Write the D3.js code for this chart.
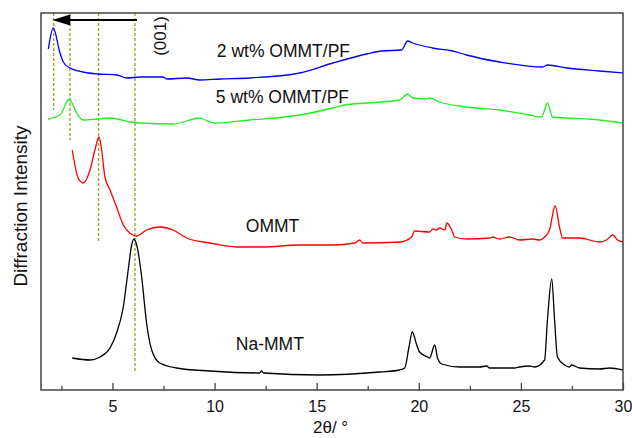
<!DOCTYPE html>
<html>
<head>
<meta charset="utf-8">
<script src="https://cdn.jsdelivr.net/npm/d3@7"></script>
<style>
  body { margin: 0; background: #fff; }
  svg text { font-family: Arial, "Liberation Sans", sans-serif; fill: #111; }
</style>
</head>
<body>
<div id="chart"></div>
<script>
// XRD patterns, 2theta (deg) vs intensity (a.u., curves stacked)
var naMMT_x = [3.03, 3.90, 4.39, 4.88, 5.20, 5.53, 5.77, 5.94, 6.05, 6.21, 6.43, 6.67, 6.92, 7.32, 8.14, 9.77, 12.21, 12.30, 12.40, 15.15, 18.09, 19.06, 19.31, 19.52, 19.68, 19.90, 20.04, 20.43, 20.53, 20.78, 20.92, 21.12, 22.00, 22.98, 23.32, 23.47, 24.69, 24.93, 25.42, 25.67, 26.16, 26.30, 26.51, 26.65, 26.79, 27.14, 27.38, 27.48, 27.87, 28.85, 29.34, 30.00];
var naMMT_y = [32, 30, 33, 42, 57, 83, 120, 145, 151, 143, 113, 67, 40, 27, 22, 19, 17, 19, 17, 15, 18, 20, 22, 43, 58, 45, 38, 33, 32, 45, 32, 26, 23, 23, 24, 22, 22, 23, 24, 23, 30, 70, 111, 70, 33, 25, 23, 25, 22, 21, 22, 20];

var ommt_x = [3.03, 3.32, 3.57, 3.90, 4.14, 4.34, 4.47, 4.63, 4.88, 5.20, 5.53, 5.85, 6.18, 6.67, 7.32, 7.97, 8.63, 9.77, 11.07, 11.72, 12.36, 14.17, 15.79, 16.86, 17.11, 17.25, 19.06, 19.65, 19.80, 20.53, 20.68, 20.87, 21.02, 21.27, 21.38, 21.61, 21.75, 22.34, 23.47, 23.61, 23.96, 24.45, 24.93, 25.57, 25.91, 26.16, 26.40, 26.68, 26.89, 27.04, 27.87, 28.85, 29.19, 29.50, 29.73, 30.00];
var ommt_y = [240, 212, 207, 220, 240, 253, 240, 213, 200, 183, 165, 157, 154, 160, 163, 160, 152, 147, 143, 143, 143, 145, 145, 147, 150, 147, 148, 153, 159, 158, 161, 160, 162, 160, 167, 160, 153, 151, 152, 153, 151, 153, 150, 151, 150, 153, 160, 184, 163, 152, 152, 148, 150, 155, 150, 148];

var pf5_x = [1.84, 2.43, 2.88, 3.25, 3.55, 4.29, 4.88, 5.22, 5.85, 6.34, 7.96, 9.28, 9.43, 10.01, 11.72, 14.17, 15.79, 16.37, 17.45, 19.06, 19.45, 19.70, 20.38, 20.53, 21.02, 22.34, 23.96, 25.42, 26.01, 26.30, 26.55, 27.23, 28.85, 30.00];
var pf5_y = [271, 275, 291, 277, 270, 271, 272, 271, 268, 267, 266, 272, 271, 267, 270, 275, 282, 285, 287, 290, 296, 292, 291, 292, 288, 283, 280, 275, 273, 287, 273, 272, 270, 267];

var pf2_x = [1.86, 2.10, 2.43, 2.59, 2.92, 3.55, 4.29, 5.22, 5.71, 6.34, 7.47, 7.66, 8.64, 9.28, 10.26, 11.72, 14.17, 15.79, 17.45, 18.18, 19.16, 19.45, 19.70, 20.68, 21.66, 22.34, 23.96, 26.06, 26.30, 27.23, 28.85, 30.00];
var pf2_y = [341, 362, 337, 328, 322, 318, 316, 315, 312, 313, 313, 311, 312, 310, 311, 312, 317, 327, 336, 339, 340, 349, 347, 342, 339, 335, 328, 323, 325, 322, 319, 317];

var seriesNames = ["2 wt% OMMT/PF", "5 wt% OMMT/PF", "OMMT", "Na-MMT"];
var seriesColors = ["#0000ff", "#22ee22", "#ff0000", "#000000"];
var labelX = [10.11, 10.06, 11.53, 11.04];
var labelY = [333, 287, 158, 40];

// (001) reflections marked with dotted lines
var peakPos = [2.12, 2.92, 4.32, 6.10];
var peakLineBottom = [280, 250, 147, 17];
var arrowFrom = [6.2, 370], arrowTo = [2.05, 370];

var majorTicks = [5, 10, 15, 20, 25, 30];
var minorTicks = [2.5, 7.5, 12.5, 17.5, 22.5, 27.5];

var W = 632, H = 438;
var margin = {top: 13, right: 9, bottom: 48, left: 41};
var innerW = W - margin.left - margin.right,
    innerH = H - margin.top - margin.bottom;

var svg = d3.select("#chart").append("svg")
    .attr("width", W)
    .attr("height", H);
var g = svg.append("g").attr("transform", "translate(" + margin.left + "," + margin.top + ")");

var x = d3.scaleLinear().domain([1.5, 30]).range([0, innerW]);
var y = d3.scaleLinear().domain([0, 377]).range([innerH, 0]);

// dotted guide lines
g.selectAll(".guide").data(peakPos).enter().append("line")
    .attr("class", "guide")
    .attr("x1", function(d){ return x(d); })
    .attr("x2", function(d){ return x(d); })
    .attr("y1", y(377))
    .attr("y2", function(d, i){ return y(peakLineBottom[i]); })
    .attr("stroke", "#a3a32a")
    .attr("stroke-width", 1.4)
    .attr("stroke-dasharray", "3,2");

var series = [
    {x: pf2_x, y: pf2_y},
    {x: pf5_x, y: pf5_y},
    {x: ommt_x, y: ommt_y},
    {x: naMMT_x, y: naMMT_y}
];

var line = d3.line()
    .x(function(d){ return x(d[0]); })
    .y(function(d){ return y(d[1]); })
    .curve(d3.curveMonotoneX);

series.forEach(function(s, i){
    var pts = s.x.map(function(v, j){ return [v, s.y[j]]; });
    g.append("path")
        .attr("d", line(pts))
        .attr("fill", "none")
        .attr("stroke", seriesColors[i])
        .attr("stroke-width", 1.3);
    g.append("text")
        .attr("x", x(labelX[i]))
        .attr("y", y(labelY[i]))
        .attr("font-size", 17.5)
        .text(seriesNames[i]);
});

// arrow
g.append("line")
    .attr("x1", x(arrowFrom[0])).attr("y1", y(arrowFrom[1]))
    .attr("x2", x(arrowTo[0]) + 12).attr("y2", y(arrowTo[1]))
    .attr("stroke", "#000").attr("stroke-width", 2);
var tipX = x(arrowTo[0]), tipY = y(arrowTo[1]);
g.append("path")
    .attr("d", "M" + tipX + "," + tipY + "L" + (tipX + 18) + "," + (tipY - 5.5) + "L" + (tipX + 18) + "," + (tipY + 5.5) + "Z")
    .attr("fill", "#000");

g.append("text")
    .attr("transform", "translate(" + (x(arrowFrom[0]) + 29) + "," + y(354) + ") rotate(-90)")
    .attr("text-anchor", "middle")
    .attr("font-size", 17)
    .text("(001)");

// frame
g.append("rect")
    .attr("width", innerW).attr("height", innerH)
    .attr("fill", "none").attr("stroke", "#444").attr("stroke-width", 1.5);

// x axis, ticks pointing inward
g.append("g")
    .attr("transform", "translate(0," + innerH + ")")
    .call(d3.axisBottom(x).tickValues(minorTicks).tickSize(-4).tickFormat(""))
    .call(function(a){ a.select(".domain").remove(); a.selectAll("line").attr("stroke", "#444").attr("stroke-width", 1.3); });

g.append("g")
    .attr("transform", "translate(0," + innerH + ")")
    .call(d3.axisBottom(x).tickValues(majorTicks).tickSize(-7).tickPadding(11).tickFormat(d3.format("d")))
    .call(function(a){
        a.select(".domain").remove();
        a.selectAll("line").attr("stroke", "#444").attr("stroke-width", 1.3);
        a.selectAll("text").attr("font-size", 16).attr("fill", "#111")
            .attr("font-family", "Arial, 'Liberation Sans', sans-serif");
    });

svg.append("text")
    .attr("x", 313).attr("y", 433)
    .attr("font-size", 17)
    .text("2θ/ °");

svg.append("text")
    .attr("transform", "translate(27," + 206 + ") rotate(-90)")
    .attr("text-anchor", "middle")
    .attr("font-size", 19)
    .text("Diffraction Intensity");
</script>
</body>
</html>
